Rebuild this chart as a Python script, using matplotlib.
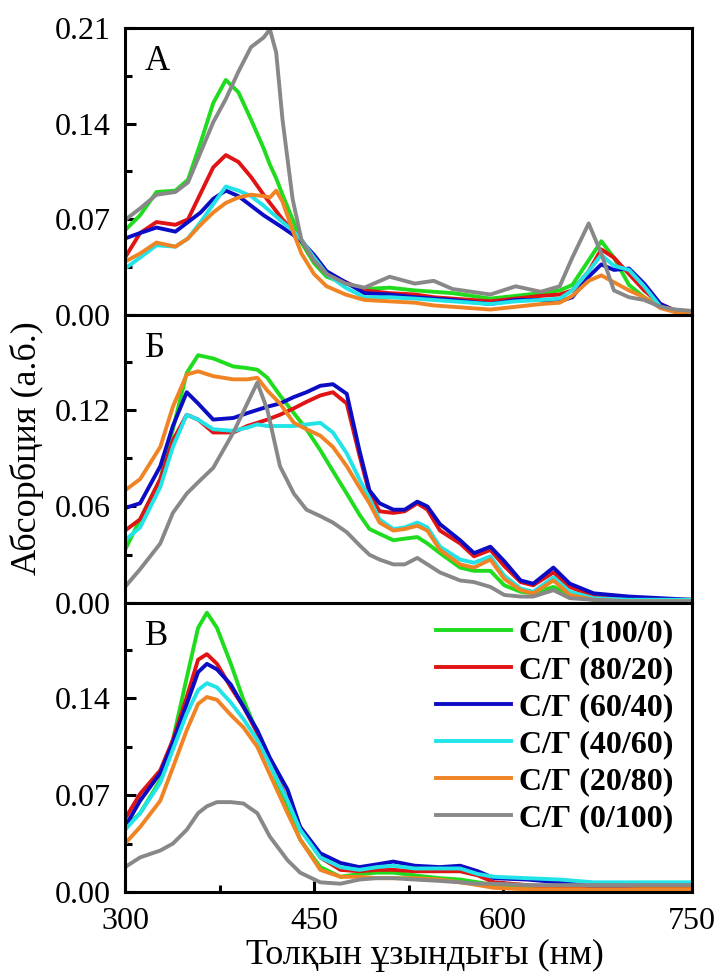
import matplotlib
matplotlib.use("Agg")
import matplotlib.pyplot as plt
import numpy as np

plt.rcParams['font.family'] = ['Liberation Serif', 'DejaVu Serif']

labels = ["С/Г (100/0)", "С/Г (80/20)", "С/Г (60/40)", "С/Г (40/60)", "С/Г (20/80)", "С/Г (0/100)"]
colors = ["#1fdc1f", "#e01414", "#0c0cc4", "#22e4e8", "#f08424", "#888888"]

# Panel A
wl_a = [300, 312, 325, 340, 350, 360, 370, 380, 390, 400, 410, 415, 420, 425, 433, 440, 450, 460, 475, 490,
        510, 530, 545, 560, 590, 610, 630, 645, 655, 668, 678, 688, 700, 712, 725, 737, 750]
a_green = [.062, .073, .090, .091, .099, .126, .155, .172, .163, .143, .122, .110, .100, .088, .070, .053, .038, .028, .023, .019,
           .020, .018, .017, .016, .012, .014, .016, .018, .022, .040, .054, .042, .022, .013, .006, .003, .002]
a_red = [.042, .060, .068, .066, .070, .089, .108, .117, .112, .101, .088, .082, .076, .070, .062, .055, .040, .030, .024, .018,
         .016, .015, .013, .012, .010, .012, .014, .015, .018, .032, .048, .042, .030, .018, .008, .003, .002]
a_blue = [.056, .060, .064, .061, .068, .075, .085, .091, .087, .080, .073, .070, .067, .064, .059, .054, .044, .032, .024, .016,
          .015, .013, .012, .011, .008, .011, .011, .010, .013, .028, .037, .033, .034, .023, .008, .003, .002]
a_cyan = [.034, .042, .051, .050, .056, .068, .081, .094, .091, .087, .080, .076, .072, .068, .062, .055, .042, .030, .020, .013,
          .013, .012, .011, .010, .008, .010, .011, .012, .018, .032, .044, .036, .033, .021, .006, .003, .003]
a_orange = [.039, .045, .053, .050, .056, .066, .075, .082, .086, .088, .087, .086, .091, .083, .062, .045, .030, .021, .015, .011,
            .010, .009, .007, .006, .004, .006, .008, .009, .014, .025, .029, .024, .018, .013, .005, .002, .001]
a_gray = [.0695, .078, .088, .090, .097, .119, .141, .158, .178, .196, .203, .209, .192, .143, .085, .055, .040, .030, .023, .020,
          .028, .023, .025, .019, .015, .021, .017, .021, .042, .067, .045, .018, .013, .011, .006, .004, .003]

# Panel Б
wl_b = [300, 312, 328, 338, 349, 358, 370, 386, 397, 405, 413, 423, 434, 444, 455, 465, 476, 486, 494, 502,
        513, 522, 532, 540, 550, 566, 577, 590, 601, 614, 624, 640, 653, 672, 700, 725, 750]
b_green = [.033, .052, .077, .108, .143, .154, .152, .147, .146, .145, .140, .129, .118, .108, .095, .082, .068, .055, .046, .043,
           .039, .040, .041, .037, .031, .022, .020, .020, .011, .007, .006, .010, .005, .002, .001, .001, .001]
b_red = [.045, .052, .077, .101, .117, .114, .106, .106, .110, .112, .114, .117, .121, .125, .129, .131, .124, .092, .068, .057,
         .056, .057, .062, .058, .045, .037, .029, .033, .023, .013, .011, .019, .010, .004, .002, .002, .002]
b_blue = [.059, .062, .085, .110, .131, .124, .114, .115, .118, .120, .122, .124, .128, .131, .135, .136, .130, .095, .070, .062,
          .058, .058, .063, .060, .049, .039, .031, .035, .026, .014, .012, .022, .012, .006, .004, .003, .002]
b_cyan = [.039, .047, .072, .097, .117, .114, .108, .107, .109, .111, .110, .110, .110, .111, .112, .106, .093, .077, .065, .052,
          .046, .047, .050, .047, .035, .027, .025, .029, .017, .009, .007, .016, .007, .003, .002, .002, .002]
b_orange = [.070, .077, .097, .122, .142, .144, .141, .139, .139, .140, .132, .124, .112, .108, .104, .097, .085, .072, .062, .050,
            .045, .046, .048, .045, .033, .024, .022, .027, .015, .008, .006, .014, .005, .002, .001, .001, .001]
b_gray = [.010, .021, .037, .056, .068, .075, .084, .106, .124, .137, .120, .085, .068, .058, .054, .050, .044, .036, .030, .027,
          .024, .024, .028, .024, .019, .014, .013, .010, .005, .004, .004, .008, .003, .002, .001, .001, .001]

# Panel В
wl_c = [300, 312, 328, 338, 349, 358, 365, 373, 384, 394, 405, 415, 429, 439, 455, 471, 486, 500, 513, 530,
        550, 566, 580, 593, 619, 645, 672, 700, 725, 750]
c_green = [.047, .057, .081, .110, .155, .191, .202, .191, .165, .139, .115, .093, .061, .038, .018, .011, .013, .014, .014, .012,
           .010, .009, .007, .005, .004, .003, .003, .003, .003, .003]
c_red = [.053, .071, .088, .110, .141, .168, .172, .165, .148, .134, .115, .095, .066, .047, .025, .016, .015, .016, .016, .015,
         .015, .015, .012, .007, .005, .003, .002, .002, .002, .002]
c_blue = [.047, .066, .086, .108, .136, .159, .165, .161, .150, .134, .117, .097, .074, .047, .028, .021, .018, .020, .022, .019,
          .018, .019, .015, .010, .009, .007, .004, .002, .001, .001]
c_cyan = [.045, .057, .079, .103, .129, .146, .151, .148, .137, .125, .110, .092, .066, .045, .025, .018, .016, .018, .019, .017,
          .017, .017, .013, .011, .010, .009, .007, .007, .007, .007]
c_orange = [.035, .047, .066, .090, .117, .136, .141, .139, .128, .119, .105, .085, .057, .038, .016, .011, .011, .010, .010, .010,
            .009, .007, .005, .003, .002, .002, .002, .002, .002, .002]
c_gray = [.018, .025, .030, .035, .045, .057, .062, .065, .065, .064, .057, .040, .023, .014, .007, .006, .009, .010, .010, .009,
          .008, .007, .006, .006, .005, .005, .005, .005, .005, .005]

panels = [
    ("А", wl_a, [a_green, a_red, a_blue, a_cyan, a_orange, a_gray], 0.21, [0, 0.07, 0.14, 0.21], 0.035),
    ("Б", wl_b, [b_green, b_red, b_blue, b_cyan, b_orange, b_gray], 0.179, [0, 0.06, 0.12], 0.03),
    ("В", wl_c, [c_green, c_red, c_blue, c_cyan, c_orange, c_gray], 0.209, [0, 0.07, 0.14], 0.035),
]

fig = plt.figure(figsize=(7.18, 9.73), dpi=100)
left, right = 125 / 718, 692 / 718
edges = [28, 315, 603, 892]

for i, (letter, wl, series, ytop, yticks, yminor) in enumerate(panels):
    top = 1 - edges[i] / 973
    bot = 1 - edges[i + 1] / 973
    ax = fig.add_axes([left, bot, right - left, top - bot])
    for y, c, lab in zip(series, colors, labels):
        ax.plot(wl, y, color=c, lw=2.8, label=lab)
    ax.set_xlim(300, 750)
    ax.set_ylim(0, ytop)
    ax.set_yticks(yticks)
    ax.set_yticklabels([f"{t:.2f}" for t in yticks])
    ax.set_yticks(np.arange(yminor, ytop, 2 * yminor), minor=True)
    ax.set_xticks([300, 450, 600, 750])
    ax.set_xticks([375, 525, 675], minor=True)
    for s in ax.spines.values():
        s.set_linewidth(2.2)
    ax.tick_params(axis='y', which='major', direction='in', length=8, width=2.2, labelsize=23, pad=10)
    ax.tick_params(axis='y', which='minor', direction='in', length=5, width=2.2)
    if i < 2:
        ax.tick_params(axis='x', which='both', length=0, labelbottom=False)
    else:
        ax.tick_params(axis='x', which='major', direction='in', length=8, width=2.2, labelsize=23, pad=11)
        ax.tick_params(axis='x', which='minor', direction='in', length=5, width=2.2)
        ax.legend(loc='upper right', frameon=False, prop={'weight': 'bold', 'size': 23},
                  handlelength=2.35, handletextpad=0.25, labelspacing=0.24,
                  borderaxespad=0.1, bbox_to_anchor=(0.995, 1.0))
    ax.text(0.035, 0.94, letter, transform=ax.transAxes, fontsize=25, va='top', ha='left')

fig.text(27 / 718, 1 - 448 / 973, "Абсорбция (а.б.)", rotation=90, ha='center', va='center', fontsize=26)
fig.text(425 / 718, 1 - 955 / 973, "Толқын ұзындығы (нм)", ha='center', va='center', fontsize=26)

fig.savefig("out.png", dpi=100)
